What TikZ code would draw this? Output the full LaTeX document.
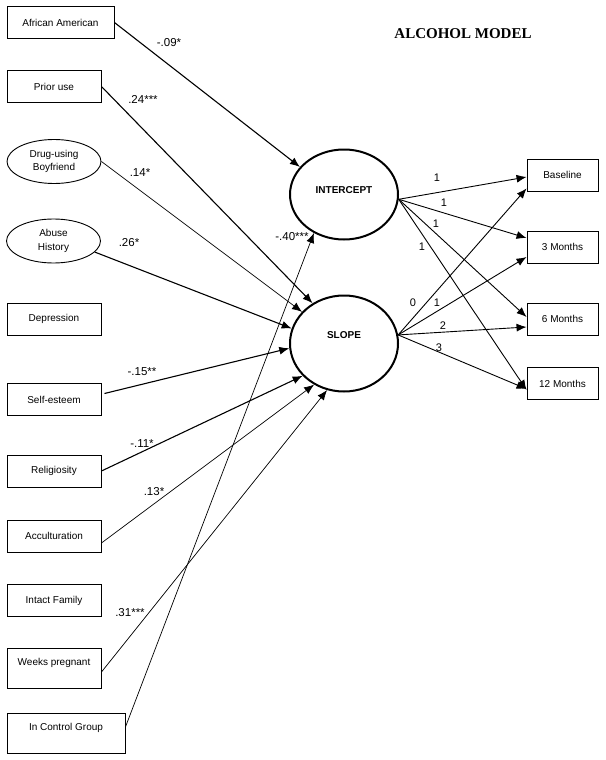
\documentclass[tikz,border=0pt]{standalone}
\usepackage{fontspec}
\setmainfont{Liberation Sans}
\newfontfamily\titlefont{Liberation Serif}
\usetikzlibrary{arrows.meta,calc,shapes.geometric}
\begin{document}
\begin{tikzpicture}[x=1pt,y=-1pt,
 box/.style={draw,line width=0.9pt,minimum width=94pt,minimum height=32pt,inner sep=0pt,font=\fontsize{10}{12}\selectfont},
 oval/.style={draw,line width=0.9pt,ellipse,minimum width=94pt,minimum height=44pt,inner sep=0pt,align=center,font=\fontsize{10}{13.5}\selectfont},
 latent/.style={draw,ellipse,line width=2pt,minimum width=108pt,minimum height=90pt,inner sep=0pt,font=\bfseries\fontsize{10}{12}\selectfont},
 rbox/.style={box,minimum width=71pt},
 tharrow/.style={-{Latex[length=10pt,width=8pt]},line width=1.1pt},
 tnarrow/.style={-{Latex[length=10pt,width=8pt]},line width=0.7pt},
 mdarrow/.style={-{Latex[length=10pt,width=8pt]},line width=0.9pt},
 coef/.style={font=\fontsize{11.5}{13}\selectfont,inner sep=0pt},
 load/.style={font=\fontsize{11}{13}\selectfont,inner sep=0pt},
]
\useasboundingbox (0,0) rectangle (605,760);
\fill[white] (0,0) rectangle (605,760);

% title
\node[font=\titlefont\bfseries\fontsize{15}{18}\selectfont] (title) at (463,34) {ALCOHOL MODEL};

% predictors
\node[box,minimum width=107pt] (aa) at (60.5,22.5) {African American};
\node[box] (pu) at (54,86.5) {Prior use};
\node[oval] (db) at (54,161.5) {Drug-using\\Boyfriend};
\node[oval] (ab) at (53.5,241) {Abuse\\History};
\node[box] (de) at (54,319) {Depression};
\node[box] (se) at (54,399.5) {Self-esteem};
\node[box] (re) at (54,471) {Religiosity};
\node[box] (ac) at (54,536) {Acculturation};
\node[box] (in) at (54,600.5) {Intact Family};
\node[box,minimum height=40pt,text depth=12pt] (wp) at (54,668) {Weeks pregnant};
\node[box,minimum width=118pt,minimum height=40pt,text depth=12pt] (cg) at (66,733) {In Control Group};

% latent factors
\node[latent,text depth=8pt] (ic) at (344,194.5) {INTERCEPT};
\node[latent,minimum height=96pt,text depth=16pt] (sl) at (344,343.5) {SLOPE};

% outcomes
\node[rbox] (b0) at (562.5,175) {Baseline};
\node[rbox] (b3) at (562.5,247) {3 Months};
\node[rbox] (b6) at (562.5,319) {6 Months};
\node[rbox] (b12) at (562.5,383.5) {12 Months};

% predictor paths
\draw[tharrow] (aa.east) -- (ic.148);
\draw[tharrow] (pu.east) -- (sl.128);
\draw[tnarrow] (db.east) -- (sl.143);
\draw[tharrow] (ab.-15) -- (sl.164);
\draw[tharrow] ($(se.east)+(3,-6)$) -- (sl.185);
\draw[tharrow] (re.east) -- (sl.218);
\draw[tnarrow] ($(ac.east)+(0,7)$) -- (sl.234);
\draw[tnarrow] ($(wp.east)+(0,4)$) -- (sl.250);
\draw[tnarrow] ($(cg.east)+(0,-6)$) -- (ic.232);

% coefficient labels
\node[coef] (c1) at (169,43) {-.09*};
\node[coef] (c2) at (143,99) {.24***};
\node[coef] (c3) at (140,173) {.14*};
\node[coef] (c4) at (129,243) {.26*};
\node[coef] (c5) at (142,372) {-.15**};
\node[coef] (c6) at (142,444) {-.11*};
\node[coef] (c7) at (154,492) {.13*};
\node[coef] (c8) at (130,613) {.31***};
\node[coef] (c9) at (292,237) {-.40***};

% loadings
\coordinate (icR) at (ic.-5);
\coordinate (slR) at (sl.9);
\draw[mdarrow] (icR) -- ($(b0.west)+(0,2)$);
\draw[mdarrow] (icR) -- ($(b3.west)+(0,-9)$);
\draw[mdarrow] (icR) -- ($(b6.west)+(0,-2)$);
\draw[mdarrow] (icR) -- ($(b12.south west)+(0,-10)$);
\draw[mdarrow] (slR) -- ($(b0.south west)+(0,-3)$);
\draw[mdarrow] (slR) -- ($(b3.west)+(0,10)$);
\draw[mdarrow] (slR) -- ($(b6.west)+(0,8)$);
\draw[mdarrow] (slR) -- ($(b12.south west)+(0,-11)$);

\node[load] (i1) at (437,178) {1};
\node[load] (i2) at (444,203) {1};
\node[load] (i3) at (436,224) {1};
\node[load] (i4) at (422,247) {1};
\node[load] (s0) at (413,303) {0};
\node[load] (s1) at (437,303) {1};
\node[load] (s2) at (443,326) {2};
\node[load] (s3) at (439,348) {3};
\end{tikzpicture}
\end{document}
